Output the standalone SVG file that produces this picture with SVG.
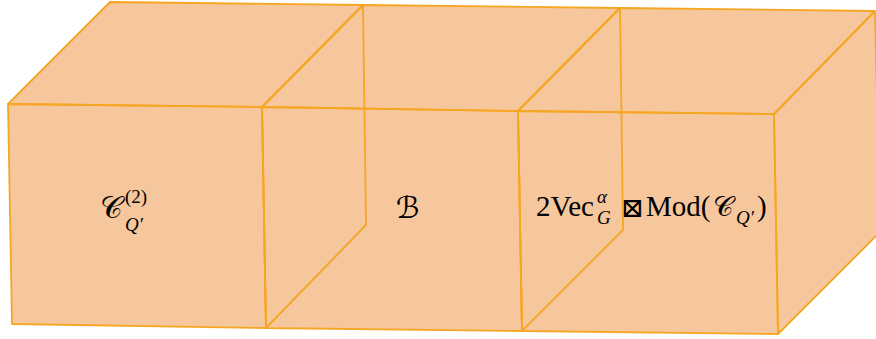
<svg xmlns="http://www.w3.org/2000/svg" width="876" height="339" viewBox="0 0 876 339">
<style>
.e{fill:none;stroke:#F5A623;stroke-width:1.8;stroke-linejoin:round}
.t{font-family:"Liberation Serif","DejaVu Serif",serif;fill:#000}
.s{font-family:"DejaVu Serif","DejaVu Sans","Liberation Serif",serif;fill:#000}
</style>
<rect width="876" height="339" fill="#fff"/>
<polygon points="8,104 110,2 875,11 880,232 778,334 12,324" fill="#F6C69C"/>
<g id="cube1">
<polygon class="e" points="8,104 262,107 266,328 12,324"/>
<polygon class="e" points="8,104 110,2 363,5 262,107"/>
<polygon class="e" points="262,107 363,5 366,225 266,328"/>
<text class="s" x="100" y="218" font-size="31">𝒞</text>
<text class="t" x="125" y="203" font-size="19">(2)</text>
<text class="t" x="125" y="231" font-size="19" font-style="italic">Q′</text>
</g>
<g id="cube2">
<polygon class="e" points="262,107 518,111 522,331 266,328"/>
<polygon class="e" points="262,107 363,5 620,8 518,111"/>
<polygon class="e" points="518,111 620,8 623,230 522,331"/>
<text class="s" x="396" y="218" font-size="30">ℬ</text>
</g>
<g id="cube3">
<polygon class="e" points="518,111 774,114 778,334 522,331"/>
<polygon class="e" points="518,111 620,8 875,11 774,114"/>
<polygon class="e" points="774,114 875,11 880,232 778,334"/>
<text class="t" x="536" y="216" font-size="29">2Vec</text>
<text class="t" x="597" y="203" font-size="19" font-style="italic">α</text>
<text class="t" x="597" y="224" font-size="19" font-style="italic">G</text>
<text class="s" x="621" y="217" font-size="27">⊠</text>
<text class="t" x="646" y="216" font-size="29">Mod(</text>
<text class="s" x="713" y="216" font-size="28">𝒞</text>
<text class="t" x="736" y="224" font-size="19" font-style="italic">Q′</text>
<text class="t" x="757" y="216" font-size="29">)</text>
</g>
</svg>
